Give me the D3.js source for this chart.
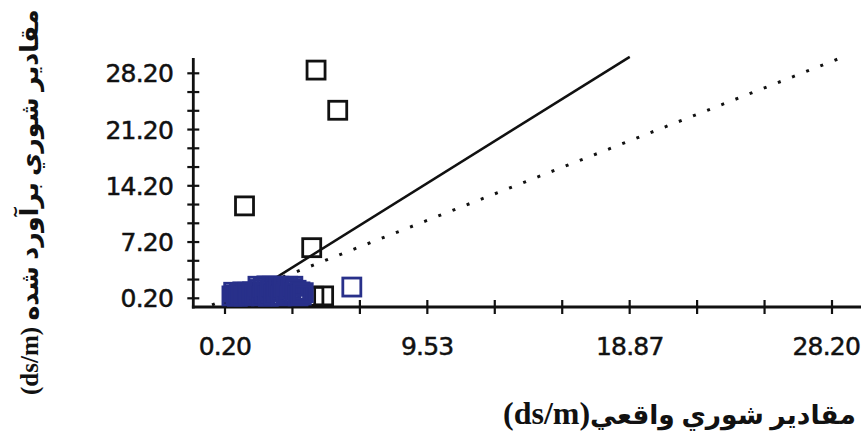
<!DOCTYPE html>
<html>
<head>
<meta charset="utf-8">
<script src="https://cdn.jsdelivr.net/npm/d3@7"></script>
<style>
  html, body { margin: 0; padding: 0; background: #fff; }
  svg { display: block; }
</style>
</head>
<body>
<svg id="chart" width="861" height="440"></svg>
<script>
// ---- data ----
const xTickLabels = ["0.20", "9.53", "18.87", "28.20"];
const yTickLabels = ["0.20", "7.20", "14.20", "21.20", "28.20"];
const xMinorPerMajor = 3;
const yMinorPerMajor = 3;

// measured salinity (x) vs estimated salinity (y), ds/m
const blackX = [4.4, 5.4, 1.1, 4.2, 4.3, 4.75];
const blackY = [28.6, 23.6, 11.7, 6.5, 0.45, 0.5];

const blueX = [0.52, 0.6, 0.71, 0.77, 0.86, 0.93, 1.02, 1.08, 1.17, 1.25, 1.31, 1.42, 1.47, 1.56,
               1.66, 1.72, 1.81, 1.88, 1.97, 2.04, 2.13, 2.2, 2.27, 2.38, 2.44, 2.53, 2.61, 2.68,
               2.79, 2.85, 2.93, 3.02, 3.09, 3.18, 3.24, 3.33, 3.41, 3.48, 3.57, 3.66, 3.72, 3.81, 6.05];
const blueY = [0.5, 0.95, 0.6, 0.45, 0.9, 0.7, 1.0, 0.5, 0.8, 0.95, 0.55, 0.85, 1.0, 0.6,
               0.9, 1.7, 1.3, 0.5, 1.6, 0.9, 1.75, 0.45, 1.2, 1.7, 0.6, 1.5, 1.0, 1.7,
               0.5, 1.3, 1.65, 0.8, 1.7, 0.55, 1.4, 1.7, 0.9, 1.2, 0.5, 1.0, 0.6, 0.9, 1.6];

const fitLineX = [2.0, 18.87];
const fitLineY = [1.84, 30.25];
const refLineX = [-0.4, 28.72];
const refLineY = [-0.62, 30.24];

const xTitle = ["مقادير شوري واقعي", "(ds/m)"];
const yTitle = ["مقادير شوري برآورد شده ", "(ds/m)"];

// ---- drawing ----
const svg = d3.select("#chart");
const W = 861;
const xMin = +xTickLabels[0], xMax = +xTickLabels[xTickLabels.length - 1];
const yMin = +yTickLabels[0], yMax = +yTickLabels[yTickLabels.length - 1];

const x = d3.scaleLinear().domain([xMin, xMax]).range([225, 832]);
const y = d3.scaleLinear().domain([yMin, yMax]).range([298.3, 73.3]);

const axisX0 = 193.3, axisY0 = 307;
const ink = "#111";
const tickFont = "DejaVu Sans, sans-serif";

// axis lines
svg.append("line").attr("x1", axisX0).attr("x2", axisX0).attr("y1", 58).attr("y2", axisY0 + 1.5)
  .attr("stroke", ink).attr("stroke-width", 2.8);
svg.append("line").attr("x1", axisX0 - 1.4).attr("x2", W).attr("y1", axisY0).attr("y2", axisY0)
  .attr("stroke", ink).attr("stroke-width", 2.8);

// x ticks
const nx = (xTickLabels.length - 1) * xMinorPerMajor;
const xTicks = d3.range(nx + 1).map(i => xMin + i * (xMax - xMin) / nx);
svg.append("g").selectAll("line").data(xTicks).join("line")
  .attr("x1", d => x(d)).attr("x2", d => x(d))
  .attr("y1", axisY0 - 7).attr("y2", axisY0 + 7)
  .attr("stroke", ink).attr("stroke-width", 2.2);
svg.append("g").selectAll("text").data(xTickLabels).join("text")
  .attr("y", 355)
  .attr("text-anchor", "middle")
  .attr("font-family", tickFont).attr("font-size", 25).attr("letter-spacing", -0.8)
  .attr("fill", ink).attr("stroke", ink).attr("stroke-width", 0.5)
  .text(d => d)
  .attr("x", function (d) {
    const w = this.getComputedTextLength();
    return Math.min(x(+d), W - w / 2 - 1);
  });

// y ticks
const ny = (yTickLabels.length - 1) * yMinorPerMajor;
const yTicks = d3.range(ny + 1).map(i => yMin + i * (yMax - yMin) / ny);
svg.append("g").selectAll("line").data(yTicks).join("line")
  .attr("x1", axisX0 - 6).attr("x2", axisX0 + 6)
  .attr("y1", d => y(d)).attr("y2", d => y(d))
  .attr("stroke", ink).attr("stroke-width", 2.2);
svg.append("g").selectAll("text").data(yTickLabels).join("text")
  .attr("x", 173).attr("y", d => y(+d) + 9)
  .attr("text-anchor", "end")
  .attr("font-family", tickFont).attr("font-size", 25).attr("letter-spacing", -0.8)
  .attr("fill", ink).attr("stroke", ink).attr("stroke-width", 0.5)
  .text(d => d);

// lines
const line = d3.line().x(d => x(d[0])).y(d => y(d[1]));
svg.append("path").datum(refLineX.map((v, i) => [v, refLineY[i]]))
  .attr("d", line).attr("fill", "none").attr("stroke", ink)
  .attr("stroke-width", 3).attr("stroke-dasharray", "3,12.2");
svg.append("path").datum(fitLineX.map((v, i) => [v, fitLineY[i]]))
  .attr("d", line).attr("fill", "none").attr("stroke", ink).attr("stroke-width", 2.5);

// markers
const side = 18;
function squares(xs, ys, color) {
  svg.append("g").selectAll("rect").data(xs.map((v, i) => [v, ys[i]])).join("rect")
    .attr("x", d => x(d[0]) - side / 2).attr("y", d => y(d[1]) - side / 2)
    .attr("width", side).attr("height", side)
    .attr("fill", "none").attr("stroke", color).attr("stroke-width", 2.8);
}
squares(blackX, blackY, ink);
squares(blueX, blueY, "#28308a");

// titles
function title(parts, tx, ty, rot, arFs, latFs, arTarget) {
  const g = svg.append("g").attr("transform", `translate(${tx},${ty}) rotate(${rot})`);
  const t = g.append("text").attr("direction", "rtl").attr("text-anchor", "middle")
    .attr("font-family", "Liberation Serif, DejaVu Sans, serif").attr("fill", ink);
  const a = t.append("tspan").attr("font-size", arFs).attr("font-weight", "bold").text(parts[0]);
  t.append("tspan").attr("font-size", latFs).attr("font-weight", "bold").text(parts[1]);
  const len = a.node().getComputedTextLength();
  a.attr("font-size", arFs * arTarget / len);
  const bb = t.node().getBBox();
  t.attr("x", -bb.x);
}
title(xTitle, 503, 424, 0, 30, 32, 266);
title(yTitle, 38, 395, -90, 24, 25, 318);
</script>
</body>
</html>
